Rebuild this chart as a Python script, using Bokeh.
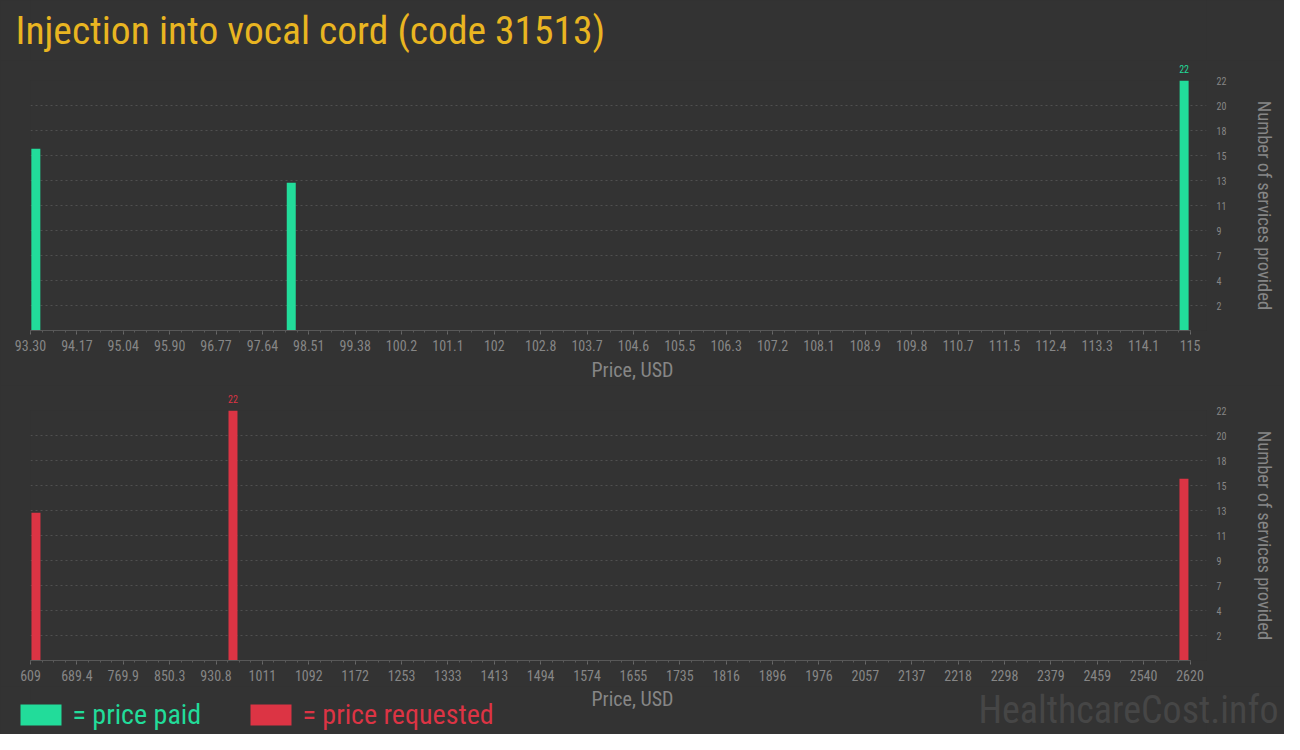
import glob
import os
import numpy as np
from bokeh.plotting import figure
from bokeh.layouts import column
from bokeh.models import Range1d, FixedTicker, CustomJSTickFormatter, ColumnDataSource
from bokeh.core.properties import value
from bokeh.embed import file_html
from bokeh.resources import INLINE

# ---------------- data ----------------
TITLE = "Injection into vocal cord (code 31513)"

paid_price = [93.40, 98.18, 114.89]
paid_count = [16, 13, 22]
paid_ticks = ["93.30", "94.17", "95.04", "95.90", "96.77", "97.64", "98.51", "99.38", "100.2",
              "101.1", "102", "102.8", "103.7", "104.6", "105.5", "106.3", "107.2", "108.1",
              "108.9", "109.8", "110.7", "111.5", "112.4", "113.3", "114.1", "115"]

req_price = [618.5, 960.2, 2609.5]
req_count = [13, 22, 16]
req_ticks = ["609", "689.4", "769.9", "850.3", "930.8", "1011", "1092", "1172", "1253", "1333",
             "1413", "1494", "1574", "1655", "1735", "1816", "1896", "1976", "2057", "2137",
             "2218", "2298", "2379", "2459", "2540", "2620"]

y_tick_labels = ["2", "4", "7", "9", "11", "13", "15", "18", "20", "22"]

X_LABEL = "Price, USD"
Y_LABEL = "Number of services provided"
LEGEND_PAID = "= price paid"
LEGEND_REQ = "= price requested"
WATERMARK = "HealthcareCost.info"


# ---------------- fonts ----------------
def has_font(patterns):
    dirs = ["/usr/share/fonts", "/usr/local/share/fonts",
            os.path.expanduser("~/.fonts"), os.path.expanduser("~/.local/share/fonts")]
    for d in dirs:
        for pat in patterns:
            if glob.glob(os.path.join(d, "**", pat), recursive=True):
                return True
    return False


if has_font(["RobotoCondensed*", "Roboto-Condensed*", "Roboto*Condensed*"]):
    FONT, FS = "Roboto Condensed", 1.0
else:
    FONT, FS = "Roboto", 0.88


def px(s):
    return f"{s * FS:.1f}px"


# ---------------- style ----------------
BG = "#333333"
GREEN = "#22dc9a"
RED = "#dc3444"
GOLD = "#e9b521"
GRAY = "#868686"
W = 1284

FRAME_L, FRAME_R = 30, 1206          # x of plot frame
AX_END = 1189.5                      # x of the last tick
XLABEL_CX = 632                      # x centre of the "Price, USD" titles
BAR_PX = 9
BAR_AREA_PX = 250                    # pixel height of 0..max


def make_plot(prices, counts, tick_labels, color, height, top_border, bottom_border, with_xlabel):
    tvals = np.linspace(float(tick_labels[0]), float(tick_labels[-1]), len(tick_labels))
    minor = np.linspace(tvals[0], tvals[-1], (len(tick_labels) - 1) * 4 + 1)
    xmin, xmax = tvals[0], tvals[-1]
    ppu = (AX_END - FRAME_L) / (xmax - xmin)
    x_end = xmax + (FRAME_R - AX_END) / ppu

    frame_h = height - top_border - bottom_border
    ymax = max(counts)
    y_end = ymax * frame_h / BAR_AREA_PX

    p = figure(width=W, height=height, output_backend="svg", toolbar_location=None,
               x_range=Range1d(xmin, x_end), y_range=Range1d(0, y_end),
               y_axis_location="right")
    p.background_fill_color = BG
    p.border_fill_color = BG
    p.outline_line_color = None
    p.min_border_left = FRAME_L
    p.min_border_right = W - FRAME_R
    p.min_border_top = top_border
    p.min_border_bottom = bottom_border

    src = ColumnDataSource(dict(x=prices, y=counts))
    p.vbar(x="x", top="y", bottom=0, width=BAR_PX / ppu, source=src,
           fill_color=color, line_color=None)

    imax = int(np.argmax(counts))
    p.text(x=[prices[imax]], y=[counts[imax]], text=[str(counts[imax])],
           text_font=value(FONT), text_font_size=px(10), text_color=color,
           text_align="center", text_baseline="bottom", y_offset=-8, level="overlay")

    # x axis
    xa = p.xaxis[0]
    xa.ticker = FixedTicker(ticks=list(tvals), minor_ticks=list(minor))
    xa.formatter = CustomJSTickFormatter(args=dict(tv=list(tvals), lb=tick_labels), code="""
        let b = 0;
        for (let i = 0; i < tv.length; i++) {
            if (Math.abs(tv[i] - tick) < Math.abs(tv[b] - tick)) b = i;
        }
        return lb[b];
    """)
    xa.bounds = (xmin, xmax)
    xa.axis_line_color = "#585858"
    xa.major_tick_line_color = "#6a6a6a"
    xa.minor_tick_line_color = "#5a5a5a"
    xa.major_tick_out = 4
    xa.major_tick_in = 0
    xa.minor_tick_out = 2
    xa.minor_tick_in = 0
    xa.major_label_text_font = FONT
    xa.major_label_text_font_size = px(14)
    xa.major_label_text_color = GRAY
    xa.major_label_standoff = 5
    if with_xlabel:
        p.text(x=[xmin + (XLABEL_CX - FRAME_L) / ppu], y=[0], text=[X_LABEL],
               text_font=value(FONT), text_font_size=px(20), text_color=GRAY,
               text_align="center", text_baseline="middle", y_offset=39, level="overlay")

    # y axis (right)
    yt = [ymax * (k + 1) / len(y_tick_labels) for k in range(len(y_tick_labels))]
    ya = p.yaxis[0]
    ya.ticker = FixedTicker(ticks=yt, minor_ticks=[])
    ya.formatter = CustomJSTickFormatter(args=dict(tv=yt, lb=y_tick_labels), code="""
        let b = 0;
        for (let i = 0; i < tv.length; i++) {
            if (Math.abs(tv[i] - tick) < Math.abs(tv[b] - tick)) b = i;
        }
        return lb[b];
    """)
    ya.axis_line_color = None
    ya.major_tick_line_color = None
    ya.minor_tick_line_color = None
    ya.major_label_text_font = FONT
    ya.major_label_text_font_size = px(10)
    ya.major_label_text_color = GRAY
    ya.major_label_standoff = 4
    ya.axis_label = Y_LABEL
    ya.axis_label_text_font = FONT
    ya.axis_label_text_font_style = "normal"
    ya.axis_label_text_font_size = px(18.5)
    ya.axis_label_text_color = GRAY
    ya.axis_label_standoff = 24

    p.xgrid.grid_line_color = None
    p.ygrid.ticker = FixedTicker(ticks=yt, minor_ticks=[])
    p.ygrid.grid_line_color = "#505050"
    p.ygrid.grid_line_dash = "2 3"
    p.ygrid.grid_line_width = 1
    return p


def make_band(y0, y1):
    # frame aligned with the plots' frames; data units equal page pixels
    p = figure(width=W, height=y1 - y0, output_backend="svg", toolbar_location=None,
               x_range=Range1d(FRAME_L, FRAME_R), y_range=Range1d(y1, y0),
               x_axis_location=None, y_axis_location=None)
    p.background_fill_color = BG
    p.border_fill_color = BG
    p.outline_line_color = None
    p.min_border_left = FRAME_L
    p.min_border_right = W - FRAME_R
    p.min_border_top = 0
    p.min_border_bottom = 0
    p.grid.visible = False
    return p


# header (y 0..60)
header = make_band(0, 60)
header.text(x=[15], y=[30], text=[TITLE], text_font=value(FONT), text_font_size=px(39.5),
            text_color=GOLD, text_align="left", text_baseline="middle", level="overlay")

# top plot (y 60..385), frame 80..330
top = make_plot(paid_price, paid_count, paid_ticks, GREEN, 325, 20, 55, True)

# bottom plot (y 385..686), frame 410..660
bottom = make_plot(req_price, req_count, req_ticks, RED, 301, 25, 26, False)

# footer (y 686..734)
footer = make_band(686, 734)
footer.text(x=[XLABEL_CX], y=[698], text=[X_LABEL], text_font=value(FONT), text_font_size=px(20),
            text_color=GRAY, text_align="center", text_baseline="middle", level="overlay")
footer.quad(left=[20, 250], right=[61, 291], top=[704, 704], bottom=[725, 725],
            fill_color=[GREEN, RED], line_color=None, level="overlay")
footer.text(x=[72, 302], y=[714, 714], text=[LEGEND_PAID, LEGEND_REQ], text_font=value(FONT),
            text_font_size=px(28), text_color=[GREEN, RED], text_align="left",
            text_baseline="middle", level="overlay")
footer.text(x=[1278], y=[709], text=[WATERMARK], text_font=value(FONT), text_font_size=px(38),
            text_color="#464646", text_align="right", text_baseline="middle", level="overlay")

layout = column(header, top, bottom, footer, spacing=0)
layout.styles = {"background-color": BG}

open("out.html", "w").write(file_html(layout, INLINE))
